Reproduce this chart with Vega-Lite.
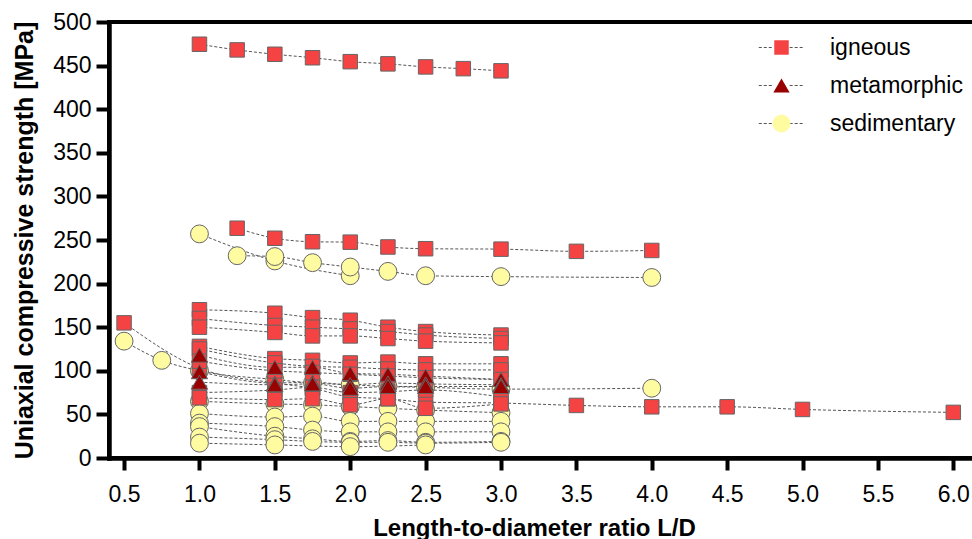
{
  "$schema": "https://vega.github.io/schema/vega-lite/v6.json",
  "autosize": "none",
  "width": 882,
  "height": 436,
  "padding": {"left": 109, "top": 22, "right": 0, "bottom": 81},
  "background": "white",
  "config": {
    "font": "Liberation Sans",
    "view": {"stroke": "#000", "strokeWidth": 4},
    "axis": {
      "domainColor": "#000", "domainWidth": 4.5, "domainCap": "square",
      "tickColor": "#000", "tickWidth": 4,
      "labelColor": "#000", "labelFontSize": 23, "labelFont": "Liberation Sans",
      "titleColor": "#000", "titleFont": "Liberation Sans", "titleFontWeight": "bold",
      "grid": false
    }
  },
  "data": {"values": [
    {"s": "S2", "t": "sedimentary", "x": 1.0, "y": 257}, {"s": "S2", "t": "sedimentary", "x": 1.5, "y": 226}, {"s": "S2", "t": "sedimentary", "x": 2.0, "y": 209},
    {"s": "S3", "t": "sedimentary", "x": 1.25, "y": 232}, {"s": "S3", "t": "sedimentary", "x": 1.5, "y": 231}, {"s": "S3", "t": "sedimentary", "x": 1.75, "y": 224}, {"s": "S3", "t": "sedimentary", "x": 2.0, "y": 219}, {"s": "S3", "t": "sedimentary", "x": 2.25, "y": 214}, {"s": "S3", "t": "sedimentary", "x": 2.5, "y": 209}, {"s": "S3", "t": "sedimentary", "x": 3.0, "y": 208}, {"s": "S3", "t": "sedimentary", "x": 4.0, "y": 207},
    {"s": "S1", "t": "sedimentary", "x": 0.5, "y": 134}, {"s": "S1", "t": "sedimentary", "x": 0.75, "y": 112}, {"s": "S1", "t": "sedimentary", "x": 1.0, "y": 100}, {"s": "S1", "t": "sedimentary", "x": 1.5, "y": 90}, {"s": "S1", "t": "sedimentary", "x": 1.75, "y": 86}, {"s": "S1", "t": "sedimentary", "x": 2.0, "y": 84}, {"s": "S1", "t": "sedimentary", "x": 2.25, "y": 82}, {"s": "S1", "t": "sedimentary", "x": 2.5, "y": 81}, {"s": "S1", "t": "sedimentary", "x": 3.0, "y": 79}, {"s": "S1", "t": "sedimentary", "x": 4.0, "y": 80},
    {"s": "S4", "t": "sedimentary", "x": 1.0, "y": 65}, {"s": "S4", "t": "sedimentary", "x": 1.5, "y": 62}, {"s": "S4", "t": "sedimentary", "x": 1.75, "y": 61}, {"s": "S4", "t": "sedimentary", "x": 2.0, "y": 59}, {"s": "S4", "t": "sedimentary", "x": 2.25, "y": 57}, {"s": "S4", "t": "sedimentary", "x": 2.5, "y": 55}, {"s": "S4", "t": "sedimentary", "x": 3.0, "y": 52},
    {"s": "S5", "t": "sedimentary", "x": 1.0, "y": 51}, {"s": "S5", "t": "sedimentary", "x": 1.5, "y": 47}, {"s": "S5", "t": "sedimentary", "x": 1.75, "y": 48}, {"s": "S5", "t": "sedimentary", "x": 2.0, "y": 42}, {"s": "S5", "t": "sedimentary", "x": 2.25, "y": 42}, {"s": "S5", "t": "sedimentary", "x": 2.5, "y": 42}, {"s": "S5", "t": "sedimentary", "x": 3.0, "y": 42},
    {"s": "S6", "t": "sedimentary", "x": 1.0, "y": 40}, {"s": "S6", "t": "sedimentary", "x": 1.5, "y": 36}, {"s": "S6", "t": "sedimentary", "x": 1.75, "y": 32}, {"s": "S6", "t": "sedimentary", "x": 2.0, "y": 30}, {"s": "S6", "t": "sedimentary", "x": 2.25, "y": 30}, {"s": "S6", "t": "sedimentary", "x": 2.5, "y": 30}, {"s": "S6", "t": "sedimentary", "x": 3.0, "y": 30},
    {"s": "S7", "t": "sedimentary", "x": 1.0, "y": 36}, {"s": "S7", "t": "sedimentary", "x": 1.5, "y": 25}, {"s": "S7", "t": "sedimentary", "x": 1.75, "y": 22}, {"s": "S7", "t": "sedimentary", "x": 2.0, "y": 19}, {"s": "S7", "t": "sedimentary", "x": 2.25, "y": 20}, {"s": "S7", "t": "sedimentary", "x": 2.5, "y": 18}, {"s": "S7", "t": "sedimentary", "x": 3.0, "y": 19},
    {"s": "S8", "t": "sedimentary", "x": 1.0, "y": 24}, {"s": "S8", "t": "sedimentary", "x": 1.5, "y": 21}, {"s": "S8", "t": "sedimentary", "x": 1.75, "y": 19}, {"s": "S8", "t": "sedimentary", "x": 2.0, "y": 18}, {"s": "S8", "t": "sedimentary", "x": 2.25, "y": 18}, {"s": "S8", "t": "sedimentary", "x": 2.5, "y": 17}, {"s": "S8", "t": "sedimentary", "x": 3.0, "y": 18},
    {"s": "S9", "t": "sedimentary", "x": 1.0, "y": 17}, {"s": "S9", "t": "sedimentary", "x": 1.5, "y": 15}, {"s": "S9", "t": "sedimentary", "x": 2.0, "y": 13}, {"s": "S9", "t": "sedimentary", "x": 2.5, "y": 15},
    {"s": "I1", "t": "igneous", "x": 1.0, "y": 474.5}, {"s": "I1", "t": "igneous", "x": 1.25, "y": 468}, {"s": "I1", "t": "igneous", "x": 1.5, "y": 463}, {"s": "I1", "t": "igneous", "x": 1.75, "y": 459}, {"s": "I1", "t": "igneous", "x": 2.0, "y": 454.5}, {"s": "I1", "t": "igneous", "x": 2.25, "y": 452}, {"s": "I1", "t": "igneous", "x": 2.5, "y": 448.5}, {"s": "I1", "t": "igneous", "x": 2.75, "y": 446.5}, {"s": "I1", "t": "igneous", "x": 3.0, "y": 444},
    {"s": "I2", "t": "igneous", "x": 1.25, "y": 263.5}, {"s": "I2", "t": "igneous", "x": 1.5, "y": 252}, {"s": "I2", "t": "igneous", "x": 1.75, "y": 248}, {"s": "I2", "t": "igneous", "x": 2.0, "y": 247.5}, {"s": "I2", "t": "igneous", "x": 2.25, "y": 242}, {"s": "I2", "t": "igneous", "x": 2.5, "y": 240}, {"s": "I2", "t": "igneous", "x": 3.0, "y": 239.5}, {"s": "I2", "t": "igneous", "x": 3.5, "y": 237}, {"s": "I2", "t": "igneous", "x": 4.0, "y": 238},
    {"s": "I3", "t": "igneous", "x": 0.5, "y": 155}, {"s": "I3", "t": "igneous", "x": 1.0, "y": 103}, {"s": "I3", "t": "igneous", "x": 1.5, "y": 86}, {"s": "I3", "t": "igneous", "x": 1.75, "y": 80}, {"s": "I3", "t": "igneous", "x": 2.0, "y": 70}, {"s": "I3", "t": "igneous", "x": 2.25, "y": 68}, {"s": "I3", "t": "igneous", "x": 2.5, "y": 64}, {"s": "I3", "t": "igneous", "x": 3.0, "y": 63}, {"s": "I3", "t": "igneous", "x": 3.5, "y": 60.3}, {"s": "I3", "t": "igneous", "x": 4.0, "y": 58.7}, {"s": "I3", "t": "igneous", "x": 4.5, "y": 58.7}, {"s": "I3", "t": "igneous", "x": 5.0, "y": 55.7}, {"s": "I3", "t": "igneous", "x": 6.0, "y": 52.3},
    {"s": "IA", "t": "igneous", "x": 1.0, "y": 170}, {"s": "IA", "t": "igneous", "x": 1.5, "y": 166}, {"s": "IA", "t": "igneous", "x": 1.75, "y": 161}, {"s": "IA", "t": "igneous", "x": 2.0, "y": 158}, {"s": "IA", "t": "igneous", "x": 2.25, "y": 150}, {"s": "IA", "t": "igneous", "x": 2.5, "y": 145}, {"s": "IA", "t": "igneous", "x": 3.0, "y": 141},
    {"s": "IB", "t": "igneous", "x": 1.0, "y": 160}, {"s": "IB", "t": "igneous", "x": 1.5, "y": 152}, {"s": "IB", "t": "igneous", "x": 1.75, "y": 150}, {"s": "IB", "t": "igneous", "x": 2.0, "y": 148}, {"s": "IB", "t": "igneous", "x": 2.25, "y": 145}, {"s": "IB", "t": "igneous", "x": 2.5, "y": 141}, {"s": "IB", "t": "igneous", "x": 3.0, "y": 137},
    {"s": "IC", "t": "igneous", "x": 1.0, "y": 150}, {"s": "IC", "t": "igneous", "x": 1.5, "y": 144}, {"s": "IC", "t": "igneous", "x": 1.75, "y": 140}, {"s": "IC", "t": "igneous", "x": 2.0, "y": 140}, {"s": "IC", "t": "igneous", "x": 2.25, "y": 137}, {"s": "IC", "t": "igneous", "x": 2.5, "y": 134}, {"s": "IC", "t": "igneous", "x": 3.0, "y": 132},
    {"s": "ID", "t": "igneous", "x": 1.0, "y": 128}, {"s": "ID", "t": "igneous", "x": 1.5, "y": 114}, {"s": "ID", "t": "igneous", "x": 1.75, "y": 112}, {"s": "ID", "t": "igneous", "x": 2.0, "y": 109}, {"s": "ID", "t": "igneous", "x": 2.25, "y": 110}, {"s": "ID", "t": "igneous", "x": 2.5, "y": 108}, {"s": "ID", "t": "igneous", "x": 3.0, "y": 108},
    {"s": "IE", "t": "igneous", "x": 1.0, "y": 125}, {"s": "IE", "t": "igneous", "x": 1.5, "y": 109}, {"s": "IE", "t": "igneous", "x": 1.75, "y": 105}, {"s": "IE", "t": "igneous", "x": 2.0, "y": 104}, {"s": "IE", "t": "igneous", "x": 2.25, "y": 102}, {"s": "IE", "t": "igneous", "x": 2.5, "y": 101}, {"s": "IE", "t": "igneous", "x": 3.0, "y": 101},
    {"s": "IF", "t": "igneous", "x": 1.0, "y": 111}, {"s": "IF", "t": "igneous", "x": 1.5, "y": 100}, {"s": "IF", "t": "igneous", "x": 1.75, "y": 98}, {"s": "IF", "t": "igneous", "x": 2.0, "y": 96}, {"s": "IF", "t": "igneous", "x": 2.25, "y": 94}, {"s": "IF", "t": "igneous", "x": 2.5, "y": 92}, {"s": "IF", "t": "igneous", "x": 3.0, "y": 90},
    {"s": "IG", "t": "igneous", "x": 1.0, "y": 75}, {"s": "IG", "t": "igneous", "x": 1.5, "y": 78}, {"s": "IG", "t": "igneous", "x": 1.75, "y": 81}, {"s": "IG", "t": "igneous", "x": 2.0, "y": 75}, {"s": "IG", "t": "igneous", "x": 2.25, "y": 76}, {"s": "IG", "t": "igneous", "x": 2.5, "y": 78}, {"s": "IG", "t": "igneous", "x": 3.0, "y": 70},
    {"s": "IH", "t": "igneous", "x": 1.0, "y": 69}, {"s": "IH", "t": "igneous", "x": 1.5, "y": 67}, {"s": "IH", "t": "igneous", "x": 1.75, "y": 68}, {"s": "IH", "t": "igneous", "x": 2.0, "y": 61}, {"s": "IH", "t": "igneous", "x": 2.25, "y": 68}, {"s": "IH", "t": "igneous", "x": 2.5, "y": 57}, {"s": "IH", "t": "igneous", "x": 3.0, "y": 62},
    {"s": "M1", "t": "metamorphic", "x": 1.0, "y": 118}, {"s": "M1", "t": "metamorphic", "x": 1.5, "y": 104}, {"s": "M1", "t": "metamorphic", "x": 1.75, "y": 104}, {"s": "M1", "t": "metamorphic", "x": 2.0, "y": 97}, {"s": "M1", "t": "metamorphic", "x": 2.25, "y": 96}, {"s": "M1", "t": "metamorphic", "x": 2.5, "y": 94}, {"s": "M1", "t": "metamorphic", "x": 3.0, "y": 90},
    {"s": "M2", "t": "metamorphic", "x": 1.0, "y": 99}, {"s": "M2", "t": "metamorphic", "x": 1.5, "y": 86}, {"s": "M2", "t": "metamorphic", "x": 1.75, "y": 87}, {"s": "M2", "t": "metamorphic", "x": 2.0, "y": 84}, {"s": "M2", "t": "metamorphic", "x": 2.25, "y": 86}, {"s": "M2", "t": "metamorphic", "x": 2.5, "y": 85}, {"s": "M2", "t": "metamorphic", "x": 3.0, "y": 84},
    {"s": "M3", "t": "metamorphic", "x": 1.0, "y": 87}, {"s": "M3", "t": "metamorphic", "x": 1.5, "y": 84}, {"s": "M3", "t": "metamorphic", "x": 1.75, "y": 85}, {"s": "M3", "t": "metamorphic", "x": 2.0, "y": 80}, {"s": "M3", "t": "metamorphic", "x": 2.25, "y": 82}, {"s": "M3", "t": "metamorphic", "x": 2.5, "y": 82}, {"s": "M3", "t": "metamorphic", "x": 3.0, "y": 82}
  ]},
  "encoding": {
    "x": {
      "field": "x", "type": "quantitative",
      "scale": {"domain": [0.4, 6.25], "nice": false, "zero": false},
      "axis": {
        "title": "Length-to-diameter ratio L/D",
        "values": [0.5, 1, 1.5, 2, 2.5, 3, 3.5, 4, 4.5, 5, 5.5, 6],
        "format": ".1f",
        "tickSize": 12, "labelPadding": 13,
        "titleFontSize": 24, "titleAnchor": "start", "titleAlign": "center",
        "titleX": 425, "titleY": 77, "titleBaseline": "alphabetic"
      }
    },
    "y": {
      "field": "y", "type": "quantitative",
      "scale": {"domain": [0, 500], "nice": false},
      "axis": {
        "title": "Uniaxial compressive strength [MPa]",
        "values": [0, 50, 100, 150, 200, 250, 300, 350, 400, 450, 500],
        "tickSize": 13, "labelPadding": 5,
        "titleFontSize": 25, "titleAngle": -90, "titleAlign": "center",
        "titleAnchor": "start", "titleX": -77, "titleY": 218, "titleBaseline": "alphabetic"
      }
    }
  },
  "layer": [
    {
      "mark": {"type": "line", "interpolate": "monotone", "strokeWidth": 1, "strokeDash": [3, 2]},
      "encoding": {
        "detail": {"field": "s"},
        "stroke": {
          "field": "t", "type": "nominal",
          "scale": {"range": ["#555555", "#555555", "#555555"]},
          "legend": {
            "orient": "none", "legendX": 661, "legendY": 14, "title": null,
            "symbolType": "M-2.5,0H-0.9M0.9,0H2.5", "symbolSize": 330, "symbolStrokeWidth": 1,
            "symbolDash": [3, 2], "symbolFillColor": "transparent", "symbolStrokeColor": "#555555",
            "labelFontSize": 23, "labelOffset": 37, "labelColor": "transparent", "rowPadding": 14
          }
        }
      }
    },
    {
      "mark": {"type": "point", "filled": true, "opacity": 1, "stroke": "#666", "strokeWidth": 1},
      "encoding": {
        "shape": {
          "field": "t", "type": "nominal",
          "scale": {"domain": ["igneous", "metamorphic", "sedimentary"], "range": ["square", "triangle-up", "circle"]},
          "legend": {
            "orient": "none", "legendX": 661, "legendY": 14, "title": null,
            "symbolStrokeColor": "#666", "symbolStrokeWidth": 1,
            "labelFontSize": 23, "labelOffset": 37, "labelColor": "#000", "rowPadding": 14
          }
        },
        "fill": {
          "field": "t", "type": "nominal",
          "scale": {"domain": ["igneous", "metamorphic", "sedimentary"], "range": ["#F54343", "#990000", "#FFFBA0"]},
          "legend": {
            "orient": "none", "legendX": 661, "legendY": 14, "title": null,
            "symbolStrokeColor": "#666", "symbolStrokeWidth": 1,
            "labelFontSize": 23, "labelOffset": 37, "labelColor": "#000", "rowPadding": 14
          }
        },
        "size": {
          "field": "t", "type": "nominal",
          "scale": {"domain": ["igneous", "metamorphic", "sedimentary"], "range": [210, 320, 260]},
          "legend": {
            "orient": "none", "legendX": 661, "legendY": 14, "title": null,
            "symbolStrokeColor": "#666", "symbolStrokeWidth": 1,
            "labelFontSize": 23, "labelOffset": 37, "labelColor": "#000", "rowPadding": 14
          }
        }
      }
    }
  ]
}
